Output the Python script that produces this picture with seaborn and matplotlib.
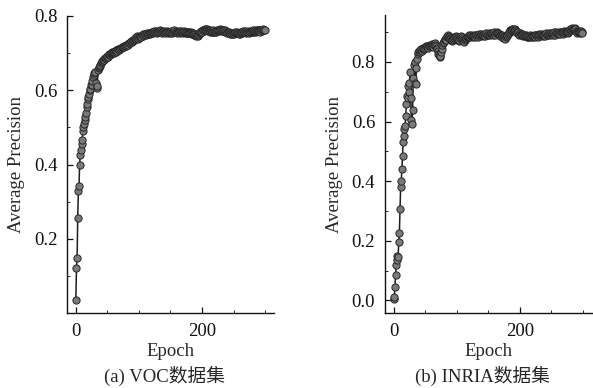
import numpy as np
import pandas as pd
import matplotlib
matplotlib.use("Agg")
import matplotlib.pyplot as plt
from matplotlib.ticker import MultipleLocator
import seaborn as sns

# VOC: average precision per epoch
voc_ap = [
    0.035, 0.122, 0.149, 0.257, 0.330, 0.341, 0.400, 0.425, 0.438, 0.455,
    0.465, 0.490, 0.500, 0.510, 0.520, 0.528, 0.540, 0.555, 0.562, 0.575,
    0.582, 0.590, 0.600, 0.603, 0.613, 0.615, 0.625, 0.636, 0.640, 0.645,
    0.650, 0.648, 0.620, 0.607, 0.612, 0.655, 0.660, 0.662, 0.665, 0.668,
    0.672, 0.675, 0.678, 0.680, 0.683, 0.682, 0.686, 0.688, 0.687, 0.690,
    0.692, 0.690, 0.694, 0.697, 0.695, 0.698, 0.700, 0.699, 0.702, 0.703,
    0.701, 0.704, 0.706, 0.703, 0.707, 0.709, 0.706, 0.710, 0.712, 0.708,
    0.711, 0.714, 0.713, 0.716, 0.715, 0.717, 0.719, 0.716, 0.720, 0.722,
    0.719, 0.723, 0.725, 0.722, 0.726, 0.728, 0.727, 0.730, 0.732, 0.729,
    0.733, 0.736, 0.734, 0.738, 0.741, 0.739, 0.743, 0.746, 0.742, 0.738,
    0.741, 0.744, 0.747, 0.745, 0.743, 0.748, 0.750, 0.747, 0.749, 0.752,
    0.750, 0.748, 0.751, 0.753, 0.750, 0.752, 0.754, 0.751, 0.755, 0.753,
    0.756, 0.758, 0.754, 0.757, 0.759, 0.756, 0.758, 0.760, 0.757, 0.755,
    0.758, 0.756, 0.759, 0.761, 0.758, 0.760, 0.757, 0.755, 0.758, 0.756,
    0.759, 0.757, 0.755, 0.758, 0.760, 0.757, 0.754, 0.756, 0.758, 0.755,
    0.757, 0.759, 0.756, 0.754, 0.757, 0.759, 0.761, 0.758, 0.756, 0.759,
    0.757, 0.755, 0.758, 0.760, 0.757, 0.755, 0.757, 0.759, 0.756, 0.758,
    0.755, 0.757, 0.759, 0.756, 0.754, 0.757, 0.755, 0.753, 0.756, 0.758,
    0.755, 0.753, 0.756, 0.754, 0.751, 0.753, 0.750, 0.748, 0.751, 0.749,
    0.747, 0.750, 0.748, 0.746, 0.749, 0.752, 0.755, 0.758, 0.756, 0.760,
    0.758, 0.761, 0.763, 0.760, 0.764, 0.762, 0.765, 0.763, 0.766, 0.762,
    0.760, 0.763, 0.761, 0.758, 0.760, 0.757, 0.759, 0.761, 0.758, 0.756,
    0.758, 0.760, 0.757, 0.759, 0.762, 0.760, 0.763, 0.761, 0.764, 0.762,
    0.760, 0.762, 0.759, 0.761, 0.763, 0.760, 0.758, 0.761, 0.759, 0.757,
    0.755, 0.757, 0.754, 0.756, 0.753, 0.751, 0.754, 0.752, 0.750, 0.753,
    0.755, 0.752, 0.754, 0.757, 0.755, 0.753, 0.756, 0.754, 0.751, 0.753,
    0.750, 0.753, 0.756, 0.754, 0.757, 0.759, 0.756, 0.758, 0.760, 0.757,
    0.755, 0.758, 0.756, 0.759, 0.757, 0.755, 0.758, 0.760, 0.757, 0.759,
    0.761, 0.758, 0.756, 0.759, 0.761, 0.758, 0.760, 0.762, 0.759, 0.761,
    0.763, 0.760, 0.758, 0.761, 0.763, 0.760, 0.762, 0.764, 0.761, 0.763,
]

# INRIA: average precision per epoch
inria_ap = [
    0.005, 0.012, 0.045, 0.085, 0.118, 0.135, 0.150, 0.145, 0.195, 0.225,
    0.305, 0.380, 0.400, 0.440, 0.485, 0.530, 0.550, 0.575, 0.585, 0.620,
    0.660, 0.685, 0.680, 0.720, 0.700, 0.730, 0.765, 0.680, 0.605, 0.590,
    0.640, 0.745, 0.790, 0.800, 0.730, 0.725, 0.780, 0.810, 0.825, 0.834,
    0.838, 0.832, 0.840, 0.845, 0.842, 0.836, 0.845, 0.848, 0.843, 0.850,
    0.846, 0.852, 0.849, 0.855, 0.851, 0.847, 0.853, 0.857, 0.852, 0.858,
    0.854, 0.860, 0.856, 0.851, 0.857, 0.862, 0.858, 0.853, 0.848, 0.842,
    0.836, 0.828, 0.822, 0.818, 0.820, 0.832, 0.845, 0.856, 0.864, 0.870,
    0.866, 0.873, 0.878, 0.875, 0.882, 0.887, 0.892, 0.888, 0.884, 0.880,
    0.876, 0.872, 0.869, 0.874, 0.878, 0.882, 0.879, 0.884, 0.887, 0.883,
    0.880, 0.877, 0.873, 0.870, 0.875, 0.879, 0.883, 0.886, 0.882, 0.878,
    0.874, 0.871, 0.868, 0.873, 0.877, 0.881, 0.885, 0.882, 0.886, 0.889,
    0.885, 0.882, 0.887, 0.890, 0.886, 0.883, 0.888, 0.891, 0.887, 0.884,
    0.889, 0.892, 0.888, 0.885, 0.890, 0.893, 0.889, 0.886, 0.891, 0.894,
    0.890, 0.887, 0.892, 0.895, 0.891, 0.888, 0.893, 0.896, 0.892, 0.889,
    0.894, 0.897, 0.893, 0.890, 0.895, 0.898, 0.894, 0.891, 0.896, 0.899,
    0.895, 0.892, 0.897, 0.900, 0.896, 0.893, 0.898, 0.895, 0.891, 0.888,
    0.892, 0.889, 0.886, 0.883, 0.880, 0.884, 0.881, 0.878, 0.882, 0.886,
    0.890, 0.894, 0.898, 0.902, 0.906, 0.903, 0.907, 0.910, 0.906, 0.909,
    0.905, 0.908, 0.911, 0.907, 0.903, 0.900, 0.896, 0.899, 0.895, 0.892,
    0.896, 0.893, 0.890, 0.894, 0.891, 0.888, 0.892, 0.889, 0.886, 0.890,
    0.887, 0.884, 0.888, 0.885, 0.882, 0.886, 0.889, 0.886, 0.883, 0.887,
    0.884, 0.888, 0.891, 0.887, 0.884, 0.889, 0.892, 0.888, 0.885, 0.890,
    0.893, 0.889, 0.886, 0.891, 0.894, 0.890, 0.887, 0.892, 0.895, 0.891,
    0.888, 0.893, 0.896, 0.892, 0.889, 0.894, 0.897, 0.893, 0.890, 0.895,
    0.898, 0.894, 0.891, 0.896, 0.899, 0.895, 0.892, 0.897, 0.900, 0.896,
    0.893, 0.898, 0.901, 0.897, 0.894, 0.899, 0.902, 0.898, 0.895, 0.900,
    0.903, 0.899, 0.896, 0.901, 0.904, 0.900, 0.897, 0.902, 0.905, 0.908,
    0.911, 0.907, 0.910, 0.913, 0.909, 0.906, 0.910, 0.913, 0.909, 0.905,
    0.902, 0.898, 0.901, 0.904, 0.900, 0.897, 0.901, 0.904, 0.901, 0.898,
]

captions = ["(a) VOC数据集", "(b) INRIA数据集"]

sns.set_style("ticks")
plt.rcParams["font.family"] = ["Liberation Serif", "Noto Sans CJK SC"]
fs = 13.5

fig = plt.figure(figsize=(5.93, 3.88), dpi=100)
ax1 = fig.add_axes([0.113, 0.193, 0.349, 0.766])
ax2 = fig.add_axes([0.649, 0.193, 0.349, 0.768])

panels = [
    (ax1, voc_ap, (0.0, 0.8), [0.2, 0.4, 0.6, 0.8]),
    (ax2, inria_ap, (-0.043, 0.957), [0.0, 0.2, 0.4, 0.6, 0.8]),
]

for i, (ax, ap, ylim, yt) in enumerate(panels):
    df = pd.DataFrame({"Epoch": np.arange(len(ap)), "AP": ap})
    sns.lineplot(data=df, x="Epoch", y="AP", ax=ax, color="#1e1e1e", lw=1.1,
                 marker="o", markersize=5.2, markerfacecolor="#7a7a7a",
                 markeredgecolor="#262626", markeredgewidth=0.7)
    ax.set_xlim(-14, 314)
    ax.set_ylim(*ylim)
    ax.set_xticks([0, 200])
    ax.set_yticks(yt)
    ax.set_yticklabels([f"{v:.1f}" for v in yt])
    ax.yaxis.set_minor_locator(MultipleLocator(0.1))
    ax.xaxis.set_minor_locator(MultipleLocator(50))
    ax.tick_params(which="major", direction="in", length=4, width=0.9,
                   labelsize=fs, colors="#111111", pad=7)
    ax.tick_params(which="minor", direction="in", length=2, width=0.7)
    sns.despine(ax=ax)
    for s in ["left", "bottom"]:
        ax.spines[s].set_linewidth(1.0)
        ax.spines[s].set_color("#111111")
    ax.set_xlabel("Epoch", fontsize=fs, labelpad=2)
    ax.set_ylabel("Average Precision", fontsize=fs, labelpad=6)
    ax.text(0.47, -0.21, captions[i], transform=ax.transAxes,
            ha="center", va="center", fontsize=fs)

fig.savefig("out.png", dpi=100)
